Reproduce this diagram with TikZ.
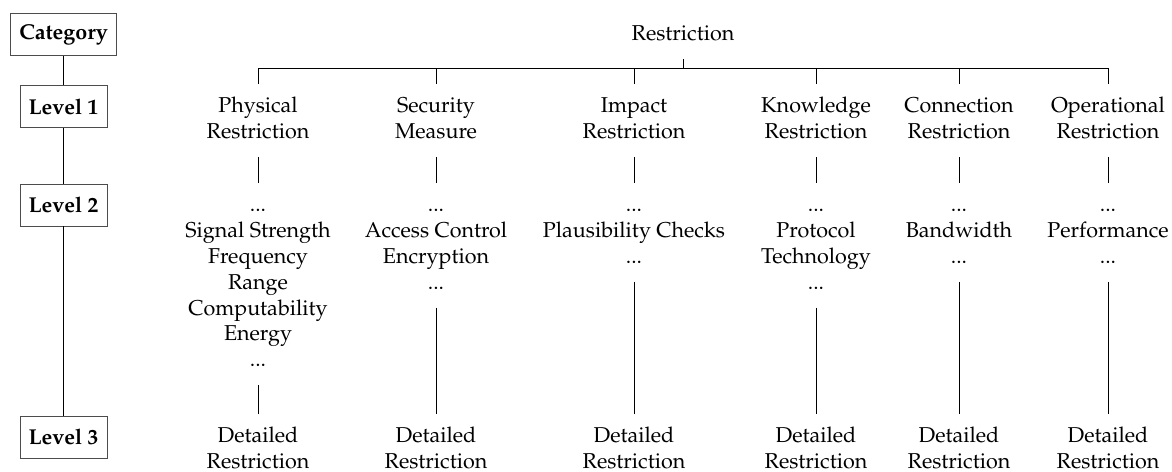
\documentclass[tikz,border=0pt]{standalone}
\usepackage[T1]{fontenc}
\usepackage{mathpazo}
\begin{document}
\begin{tikzpicture}[x=0.465pt,y=-0.465pt,
  every node/.style={font=\fontsize{10}{12}\selectfont},
  txt/.style={align=center, inner sep=0pt, outer ysep=5pt},
  lvl/.style={draw=black!70, line width=0.4pt, inner xsep=4pt, inner ysep=0pt,
    minimum height=19.5pt, font=\fontsize{10}{12}\selectfont\bfseries},
  link/.style={line width=0.4pt}]
\useasboundingbox (0,0) rectangle (1172,471);

% category / level column
\node[lvl] (cat) at (63.5,34.5) {Category};
\node[lvl] (lv1) at (63.5,106.5) {Level 1};
\node[lvl] (lv2) at (63.5,205) {Level 2};
\node[lvl] (lv3) at (63.5,437) {Level 3};
\draw[link] (cat) -- (lv1) -- (lv2) -- (lv3);

% root and first level (struts give every block the same top and bottom)
\node[txt, anchor=north] (root) at (683,12) {\strut Restriction\strut};
\coordinate (bus) at (683,68);

\node[txt, anchor=north] (a1) at (258,84) {\strut Physical\\Restriction\strut};
\node[txt, anchor=north] (b1) at (436,84) {\strut Security\\Measure\strut};
\node[txt, anchor=north] (c1) at (634,84) {\strut Impact\\Restriction\strut};
\node[txt, anchor=north] (d1) at (816,84) {\strut Knowledge\\Restriction\strut};
\node[txt, anchor=north] (e1) at (959,84) {\strut Connection\\Restriction\strut};
\node[txt, anchor=north] (f1) at (1108,84) {\strut Operational\\Restriction\strut};

% second level
\node[txt, anchor=north] (a2) at (258,183) {\strut...\\Signal Strength\\Frequency\\Range\\Computability\\Energy\\...\strut};
\node[txt, anchor=north] (b2) at (436,183) {\strut...\\Access Control\\Encryption\\...\strut};
\node[txt, anchor=north] (c2) at (634,183) {\strut...\\Plausibility Checks\\...\strut};
\node[txt, anchor=north] (d2) at (816,183) {\strut...\\Protocol\\Technology\\...\strut};
\node[txt, anchor=north] (e2) at (959,183) {\strut...\\Bandwidth\\...\strut};
\node[txt, anchor=north] (f2) at (1108,183) {\strut...\\Performance\\...\strut};

% third level
\foreach \c/\x in {a/258,b/436,c/634,d/816,e/959,f/1108}
  \node[txt, anchor=north] (\c3) at (\x,414) {\strut Detailed\\Restriction\strut};

% connectors
\draw[link] (root.south) -- (bus);
\draw[link] (a1.north) |- (bus) -| (f1.north);
\foreach \c in {b,c,d,e}
  \draw[link] (\c1.north) -- (\c1.north |- bus);
\foreach \c in {a,b,c,d,e,f} {
  \draw[link] (\c1.south) -- (\c2.north);
  \draw[link] (\c2.south) -- (\c3.north);
}
\end{tikzpicture}
\end{document}
